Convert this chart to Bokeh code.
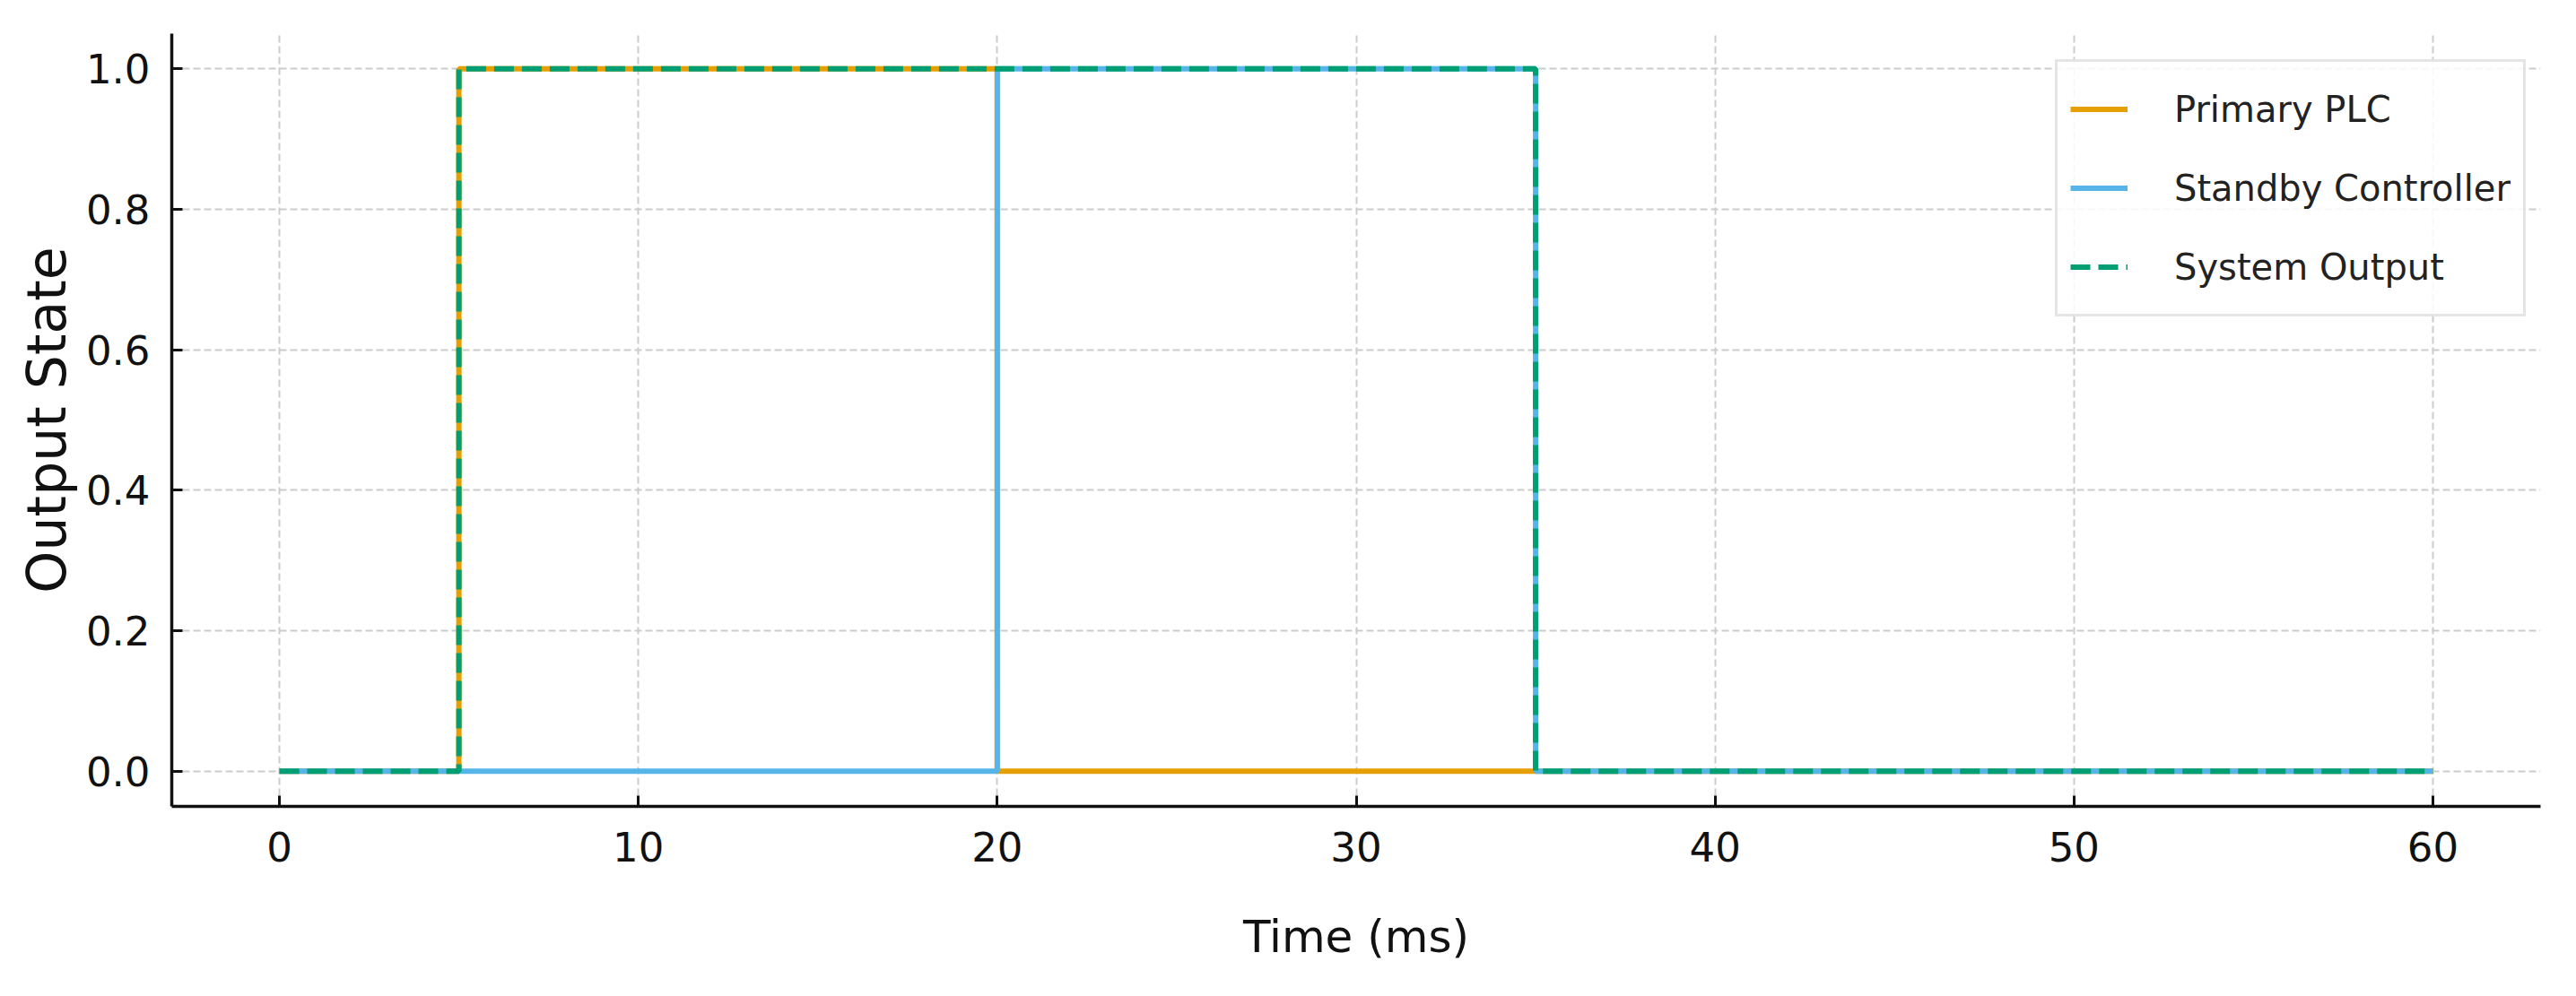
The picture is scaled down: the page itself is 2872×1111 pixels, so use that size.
from bokeh.plotting import figure
from bokeh.models import FixedTicker, Range1d, Legend, LegendItem
from bokeh.embed import file_html
from bokeh.resources import INLINE

# ---- data ----
time_ms = [0, 5, 20, 35, 60]
primary_plc = [0, 1, 0, 0, 0]
standby_controller = [0, 0, 1, 0, 0]
system_output = [0, 1, 1, 0, 0]
x_ticks = [0, 10, 20, 30, 40, 50, 60]
y_ticks = [0.0, 0.2, 0.4, 0.6, 0.8, 1.0]
y_tick_labels = ["0.0", "0.2", "0.4", "0.6", "0.8", "1.0"]

FONT = "DejaVu Sans"

p = figure(width=2856, height=1095, output_backend="svg", toolbar_location=None,
           x_range=Range1d(-3, 63), y_range=Range1d(-0.05, 1.05),
           min_border_left=191, min_border_right=24, min_border_top=37, min_border_bottom=196)
p.outline_line_color = None
p.background_fill_color = "white"
p.border_fill_color = "white"

# grid
for g in (p.xgrid, p.ygrid):
    g.grid_line_color = "#cccccc"
    g.grid_line_width = 2
    g.grid_line_dash = "8 4"
p.xgrid.ticker = FixedTicker(ticks=x_ticks)
p.ygrid.ticker = FixedTicker(ticks=y_ticks)

# axes
p.xaxis.ticker = FixedTicker(ticks=x_ticks)
p.yaxis.ticker = FixedTicker(ticks=y_ticks)
p.yaxis.major_label_overrides = {t: l for t, l in zip(y_ticks, y_tick_labels)}
for ax in (p.xaxis[0], p.yaxis[0]):
    ax.axis_line_color = "#111111"
    ax.axis_line_width = 3.5
    ax.major_tick_line_color = "#111111"
    ax.major_tick_line_width = 3
    ax.major_tick_out = 0
    ax.major_tick_in = 12
    ax.minor_tick_line_color = None
    ax.major_label_text_font = FONT
    ax.major_label_text_font_size = "45px"
    ax.major_label_text_color = "#111111"
    ax.axis_label_text_font = FONT
    ax.axis_label_text_font_style = "normal"
    ax.axis_label_text_color = "#111111"

p.xaxis.axis_label = "Time (ms)"
p.xaxis.axis_label_text_font_size = "50px"
p.xaxis.major_label_standoff = 28
p.xaxis.axis_label_standoff = 52
p.yaxis.axis_label = "Output State"
p.yaxis.axis_label_text_font_size = "60px"
p.yaxis.major_label_standoff = 24
p.yaxis.axis_label_standoff = 6

r1 = p.step(time_ms, primary_plc, mode="after", line_color="#E69F00", line_width=6)
r2 = p.step(time_ms, standby_controller, mode="after", line_color="#56B4E9", line_width=6)
r3 = p.step(time_ms, system_output, mode="after", line_color="#009E73", line_width=6,
            line_dash="22 9")

legend = Legend(items=[LegendItem(label="Primary PLC", renderers=[r1]),
                       LegendItem(label="Standby Controller", renderers=[r2]),
                       LegendItem(label="System Output", renderers=[r3])],
                location=(2100, 546))
legend.label_text_font = FONT
legend.label_text_font_size = "40px"
legend.label_text_color = "#222222"
legend.glyph_width = 64
legend.glyph_height = 77
legend.label_height = 77
legend.label_standoff = 52
legend.spacing = 11
legend.padding = 14
legend.margin = 0
legend.border_line_color = "#cccccc"
legend.border_line_width = 3
legend.background_fill_color = "white"
legend.background_fill_alpha = 0.85
p.add_layout(legend)

open("out.html", "w").write(file_html(p, INLINE))
